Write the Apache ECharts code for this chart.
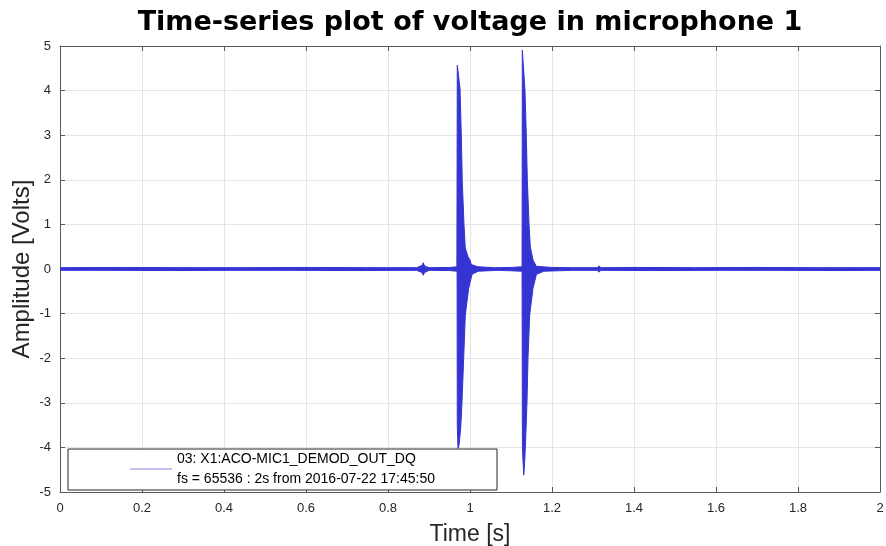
<!DOCTYPE html>
<html>
<head>
<meta charset="utf-8">
<script src="https://cdn.jsdelivr.net/npm/echarts@6/dist/echarts.min.js"></script>
<style>
  html, body { margin: 0; padding: 0; background: #fff; }
  #chart { width: 886px; height: 546px; }
</style>
</head>
<body>
<div id="chart"></div>
<script>
// tick values
var xTicks = [0, 0.2, 0.4, 0.6, 0.8, 1, 1.2, 1.4, 1.6, 1.8, 2];
var yTicks = [-5, -4, -3, -2, -1, 0, 1, 2, 3, 4, 5];

var upperTime = [0, 0.15, 0.3, 0.45, 0.6, 0.75, 0.87, 0.883, 0.886, 0.889, 0.9, 0.95,
  0.968, 0.969, 0.9756, 0.9788, 0.9812, 0.9854, 0.9885, 0.9951, 1.0, 1.0032, 1.0195, 1.06, 1.1,
  1.127, 1.1276, 1.1341, 1.1374, 1.1398, 1.1439, 1.1471, 1.1537, 1.1617, 1.2, 1.25,
  1.31, 1.315, 1.319, 1.4, 1.55, 1.7, 1.85, 2.0];
var upperVolts = [0.03, 0.035, 0.03, 0.03, 0.035, 0.03, 0.03, 0.08, 0.14, 0.07, 0.03, 0.035,
  0.05, 4.57, 4.06, 3.0, 1.96, 0.99, 0.47, 0.28, 0.2, 0.1, 0.05, 0.03, 0.035,
  0.05, 4.91, 4.01, 2.97, 2.0, 1.02, 0.5, 0.2, 0.06, 0.035, 0.03,
  0.03, 0.07, 0.03, 0.035, 0.03, 0.035, 0.03, 0.03];

// lower envelope
var lowerTime = [0, 0.12, 0.27, 0.42, 0.57, 0.72, 0.87, 0.883, 0.886, 0.889, 0.9, 0.95,
  0.9685, 0.969, 0.9707, 0.9732, 0.9773, 0.9805, 0.9846, 0.9885, 0.9968, 1.005, 1.02, 1.07,
  1.127, 1.1278, 1.131, 1.1324, 1.135, 1.139, 1.1415, 1.1456, 1.1537, 1.162, 1.18, 1.25,
  1.31, 1.315, 1.319, 1.45, 1.6, 1.75, 1.9, 2.0];
var lowerVolts = [-0.03, -0.03, -0.035, -0.03, -0.03, -0.035, -0.03, -0.08, -0.14, -0.08, -0.03, -0.035,
  -0.05, -3.5, -4.02, -3.95, -3.57, -2.98, -2.0, -1.03, -0.43, -0.12, -0.05, -0.03,
  -0.05, -4.0, -4.62, -4.47, -4.02, -2.98, -2.0, -1.03, -0.43, -0.12, -0.05, -0.03,
  -0.03, -0.07, -0.03, -0.035, -0.03, -0.03, -0.035, -0.03];

var seriesName = '03: X1:ACO-MIC1_DEMOD_OUT_DQ\nfs = 65536 : 2s from 2016-07-22 17:45:50';
var blue = '#3434d2';
var axisColor = '#5a5a5a';
var textColor = '#262626';
var font = 'Liberation Sans, Arial, Helvetica, sans-serif';

var chart = echarts.init(document.getElementById('chart'));

// the dense trace is drawn as one filled band: upper envelope forward, lower envelope back
function renderBand(params, api) {
  var pts = [];
  for (var i = 0; i < upperTime.length; i++) {
    pts.push(api.coord([upperTime[i], upperVolts[i]]));
  }
  for (var j = lowerTime.length - 1; j >= 0; j--) {
    pts.push(api.coord([lowerTime[j], lowerVolts[j]]));
  }
  return {
    type: 'polygon',
    shape: { points: pts },
    style: { fill: blue, stroke: blue, lineWidth: 1 }
  };
}

function sideAxis(pos, ticks) {
  return {
    type: 'value',
    min: ticks[0],
    max: ticks[ticks.length - 1],
    interval: ticks[1] - ticks[0],
    position: pos,
    axisLine: { show: true, onZero: false, lineStyle: { color: axisColor, width: 1 } },
    axisTick: { show: true, inside: true, length: 5, lineStyle: { color: axisColor } },
    axisLabel: { show: false },
    splitLine: { show: false }
  };
}

var option = {
  animation: false,
  backgroundColor: '#fff',
  textStyle: { fontFamily: font },
  title: {
    text: 'Time-series plot of voltage in microphone 1',
    left: 465,
    top: 4,
    textAlign: 'center',
    textStyle: { fontSize: 27, fontWeight: 'bold', color: '#000', fontFamily: 'DejaVu Sans, sans-serif' }
  },
  grid: { left: 60, right: 6, top: 46, bottom: 54, show: false, outerBoundsMode: 'none' },
  legend: {
    left: 68,
    top: 449,
    padding: [0, 62, 1, 62],
    borderColor: textColor,
    borderWidth: 1,
    backgroundColor: '#fff',
    itemWidth: 42,
    itemHeight: 1,
    icon: 'rect',
    itemStyle: { color: '#8080e2' },
    textStyle: { fontSize: 14, lineHeight: 20, color: '#000', fontFamily: font },
    data: [seriesName]
  },
  xAxis: [
    {
      type: 'value',
      min: xTicks[0],
      max: xTicks[xTicks.length - 1],
      interval: xTicks[1] - xTicks[0],
      position: 'bottom',
      name: 'Time [s]',
      nameLocation: 'middle',
      nameGap: 31,
      nameTextStyle: { fontSize: 23, color: textColor },
      axisLine: { show: true, onZero: false, lineStyle: { color: axisColor, width: 1 } },
      axisTick: { show: true, inside: true, length: 5, lineStyle: { color: axisColor } },
      axisLabel: { color: textColor, fontSize: 13, margin: 10 },
      splitLine: { show: true, lineStyle: { color: '#e6e6e6', width: 1 } }
    },
    sideAxis('top', xTicks)
  ],
  yAxis: [
    {
      type: 'value',
      min: yTicks[0],
      max: yTicks[yTicks.length - 1],
      interval: yTicks[1] - yTicks[0],
      position: 'left',
      name: 'Amplitude [Volts]',
      nameLocation: 'middle',
      nameGap: 26,
      nameMoveOverlap: false,
      nameTextStyle: { fontSize: 24, color: textColor },
      axisLine: { show: true, onZero: false, lineStyle: { color: axisColor, width: 1 } },
      axisTick: { show: true, inside: true, length: 5, lineStyle: { color: axisColor } },
      axisLabel: { color: textColor, fontSize: 13, margin: 9 },
      splitLine: { show: true, lineStyle: { color: '#e6e6e6', width: 1 } }
    },
    sideAxis('right', yTicks)
  ],
  series: [
    {
      name: seriesName,
      type: 'custom',
      xAxisIndex: 0,
      yAxisIndex: 0,
      coordinateSystem: 'cartesian2d',
      clip: true,
      data: [[upperTime[0], upperVolts[0]]],
      itemStyle: { color: blue },
      renderItem: renderBand
    }
  ]
};

chart.setOption(option);
</script>
</body>
</html>
